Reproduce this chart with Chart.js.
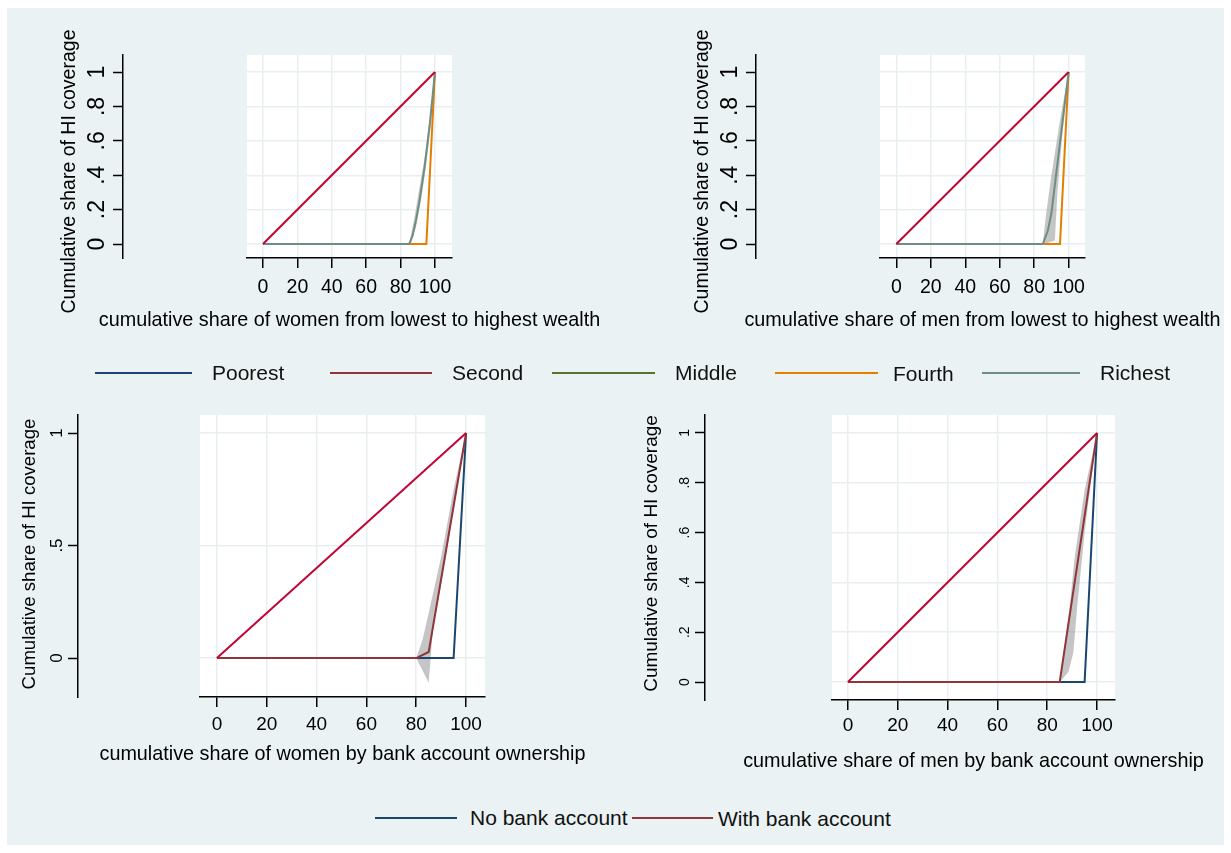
<!DOCTYPE html>
<html>
<head>
<meta charset="utf-8">
<script src="https://cdn.jsdelivr.net/npm/chart.js@4.4.0/dist/chart.umd.min.js"></script>
<style>
body { margin: 0; background: #fff; width: 1231px; height: 853px; overflow: hidden; }
#frame { position: absolute; left: 7px; top: 8px; width: 1217px; height: 837px; background: #eaf2f3; }
canvas { position: absolute; }
.key { position: absolute; height: 0; border-top: 2px solid; }
.lbl { position: absolute; font-family: "Liberation Sans", Arial, sans-serif; font-size: 21px; line-height: 21px; color: #111; white-space: nowrap; }
</style>
</head>
<body>
<div id="frame"></div>

<canvas id="a1" width="120" height="340" style="left:50px;top:0px"></canvas>
<canvas id="p1" width="560" height="340" style="left:60px;top:0px"></canvas>
<canvas id="a2" width="120" height="340" style="left:680px;top:0px"></canvas>
<canvas id="p2" width="531" height="340" style="left:700px;top:0px"></canvas>
<canvas id="a3" width="120" height="440" style="left:5px;top:345px"></canvas>
<canvas id="p3" width="640" height="440" style="left:0px;top:345px"></canvas>
<canvas id="a4" width="120" height="440" style="left:630px;top:345px"></canvas>
<canvas id="p4" width="591" height="440" style="left:640px;top:345px"></canvas>

<!-- wealth legend -->
<div class="key" style="left:95px;top:372px;width:97px;border-color:#1a476f"></div>
<div class="lbl" style="left:212px;top:362px">Poorest</div>
<div class="key" style="left:330px;top:372px;width:102px;border-color:#90353b"></div>
<div class="lbl" style="left:452px;top:362px">Second</div>
<div class="key" style="left:552px;top:372px;width:103px;border-color:#55752f"></div>
<div class="lbl" style="left:675px;top:362px">Middle</div>
<div class="key" style="left:775px;top:372px;width:103px;border-color:#e37e00"></div>
<div class="lbl" style="left:893px;top:363px">Fourth</div>
<div class="key" style="left:982px;top:372px;width:98px;border-color:#6e8e84"></div>
<div class="lbl" style="left:1100px;top:362px">Richest</div>

<!-- bank legend -->
<div class="key" style="left:375px;top:817px;width:82px;border-color:#1a476f"></div>
<div class="lbl" style="left:470px;top:807px">No bank account</div>
<div class="key" style="left:632px;top:817px;width:81px;border-color:#90353b"></div>
<div class="lbl" style="left:718px;top:808px">With bank account</div>

<script>
var FONT = '"Liberation Sans", Arial, sans-serif';
Chart.defaults.font.family = FONT;

// ticks
var xTicks = [0, 20, 40, 60, 80, 100];
var yTicksFine = [0, 0.2, 0.4, 0.6, 0.8, 1];
var yLabelsFine = ['0', '.2', '.4', '.6', '.8', '1'];
var yTicksHalf = [0, 0.5, 1];
var yLabelsHalf = ['0', '.5', '1'];

// line of equality
var equalX = [0, 100];
var equalY = [0, 1];

// women, lowest to highest wealth
var wFourthX = [0, 95, 100];
var wFourthY = [0, 0, 1];
var wRichestX = [0, 85, 87, 89, 91, 94, 97, 100];
var wRichestY = [0, 0, 0.05, 0.14, 0.25, 0.45, 0.7, 1];
var wCiHiX = [85, 88, 90, 94, 97, 100];
var wCiHiY = [0, 0.15, 0.27, 0.5, 0.73, 1];
var wCiLoX = [85, 86, 89, 92, 95, 98, 100];
var wCiLoY = [0, 0, 0.1, 0.26, 0.47, 0.72, 1];

// men, lowest to highest wealth
var mFourthX = [0, 95, 100];
var mFourthY = [0, 0, 1];
var mRichestX = [0, 85, 88, 90, 100];
var mRichestY = [0, 0, 0.08, 0.18, 1];
var mCiHiX = [85, 87, 90, 95, 100];
var mCiHiY = [0, 0.18, 0.4, 0.72, 1];
var mCiLoX = [85, 86, 92, 93.5, 96, 100];
var mCiLoY = [0, 0, 0.02, 0.3, 0.6, 1];

// women, bank account
var wNoBankX = [0, 95, 100];
var wNoBankY = [0, 0, 1];
var wBankX = [0, 80, 85, 100];
var wBankY = [0, 0, 0.027, 1];
var wBankCiHiX = [80, 82.5, 85, 90, 95, 100];
var wBankCiHiY = [0, 0.08, 0.2, 0.45, 0.75, 1];
var wBankCiLoX = [80, 85, 86.7, 90, 95, 100];
var wBankCiLoY = [0, -0.11, 0.13, 0.33, 0.66, 1];

// men, bank account
var mNoBankX = [0, 95, 100];
var mNoBankY = [0, 0, 1];
var mBankX = [0, 85, 100];
var mBankY = [0, 0, 1];
var mBankCiHiX = [85, 87, 89, 91, 95, 100];
var mBankCiHiY = [0, 0.15, 0.3, 0.5, 0.77, 1];
var mBankCiLoX = [85, 88.5, 90.5, 92, 95, 100];
var mBankCiLoY = [0, 0.04, 0.12, 0.3, 0.6, 1];

var NAVY = '#1a476f', MAROON = '#90353b', ORANGE = '#e37e00', TEAL = '#6e8e84', CRAN = '#c10534';
var GRID = '#e9eff1';
var Y_TITLE = 'Cumulative share of HI coverage';

function pts(xs, ys) {
    return xs.map(function (x, i) { return { x: x, y: ys[i] }; });
}

function line(label, xs, ys, color) {
    return { label: label, data: pts(xs, ys), borderColor: color, borderWidth: 2, pointRadius: 0, fill: false, tension: 0 };
}

function band(xs, ys, fill) {
    return { label: 'ci', data: pts(xs, ys), borderWidth: 0, borderColor: 'rgba(0,0,0,0)',
        backgroundColor: 'rgba(140,140,140,0.5)', pointRadius: 0, fill: fill, tension: 0 };
}

var plotBg = {
    id: 'plotBg',
    beforeDraw: function (chart) {
        var a = chart.chartArea, ctx = chart.ctx;
        ctx.save();
        ctx.fillStyle = '#fff';
        ctx.fillRect(a.left, a.top, a.right - a.left, a.bottom - a.top);
        ctx.restore();
    }
};

// axis titles drawn by hand: chart.js squeezes a title into the plot width
var axisTitle = {
    id: 'axisTitle',
    afterDraw: function (chart, args, o) {
        if (!o.text) return;
        var a = chart.chartArea, ctx = chart.ctx;
        ctx.save();
        ctx.font = o.size + 'px ' + FONT;
        ctx.fillStyle = '#000';
        ctx.textAlign = 'center';
        ctx.textBaseline = 'middle';
        if (o.vertical) {
            ctx.translate(a.left - o.dx, (a.top + a.bottom) / 2 + o.dy);
            ctx.rotate(-Math.PI / 2);
            ctx.fillText(o.text, 0, 0);
        } else {
            ctx.fillText(o.text, (a.left + a.right) / 2, a.bottom + o.dy);
        }
        ctx.restore();
    }
};

function setTicks(list) {
    return function (s) { s.ticks = list.map(function (v) { return { value: v }; }); };
}

// the y axis stands apart from the plot, so it gets its own canvas
function axisChart(id, o) {
    return new Chart(document.getElementById(id), {
        type: 'line',
        data: { datasets: [] },
        plugins: [axisTitle],
        options: {
            responsive: false, animation: false,
            layout: { padding: { top: o.top, bottom: o.bottom, left: 0, right: 0 } },
            plugins: {
                legend: { display: false }, tooltip: { enabled: false },
                axisTitle: { text: Y_TITLE, vertical: true, size: o.titleSize, dx: o.titleDx, dy: o.titleDy }
            },
            scales: {
                x: { type: 'linear', display: false, min: 0, max: 1 },
                y: {
                    type: 'linear', min: o.yMin, max: o.yMax,
                    afterBuildTicks: setTicks(o.yTicks),
                    afterFit: function (s) { s.width = o.width; },
                    border: { display: true, color: '#000', width: 1.5 },
                    grid: { drawOnChartArea: false, drawTicks: true, tickLength: 10, color: '#000', tickColor: '#000', tickWidth: 1.5 },
                    ticks: {
                        color: '#000', font: { size: o.tickSize }, padding: o.tickPad,
                        crossAlign: 'center', minRotation: 90, maxRotation: 90,
                        callback: function (v, i) { return o.yLabels[i]; }
                    }
                }
            }
        }
    });
}

function plotChart(id, o) {
    return new Chart(document.getElementById(id), {
        type: 'line',
        data: { datasets: o.datasets },
        plugins: [plotBg, axisTitle],
        options: {
            responsive: false, animation: false,
            layout: { padding: { top: o.top, bottom: o.bottom, left: o.left, right: o.right } },
            plugins: {
                legend: { display: false }, tooltip: { enabled: false },
                axisTitle: { text: o.xTitle, vertical: false, size: 19.8, dy: o.xTitleDy }
            },
            scales: {
                x: {
                    type: 'linear', min: o.xMin, max: o.xMax,
                    afterBuildTicks: setTicks(xTicks),
                    afterFit: function (s) { s.height = o.xHeight; },
                    border: { color: '#000', width: 1.5 },
                    grid: { color: GRID, lineWidth: 1.5, tickLength: 10, tickColor: '#000', tickWidth: 1.5 },
                    ticks: { color: '#000', font: { size: o.xTickSize }, padding: o.xTickPad, maxRotation: 0, autoSkip: false }
                },
                y: {
                    type: 'linear', min: o.yMin, max: o.yMax,
                    afterBuildTicks: setTicks(o.yTicks),
                    afterFit: function (s) { s.width = 0; },
                    border: { display: false },
                    grid: { color: GRID, lineWidth: 1.5, drawTicks: false },
                    ticks: { display: false }
                }
            }
        }
    });
}

// top left: women by wealth
axisChart('a1', { top: 55, bottom: 82, width: 73, yMin: -0.081, yMax: 1.099, yTicks: yTicksFine, yLabels: yLabelsFine,
    tickSize: 23, tickPad: 6, titleSize: 19.5, titleDx: 53, titleDy: 15 });
plotChart('p1', { top: 55, bottom: 9, left: 187, right: 168, xHeight: 73, xMin: -9.3, xMax: 109.9,
    yMin: -0.081, yMax: 1.099, yTicks: yTicksFine, xTickSize: 19.5, xTickPad: 8,
    xTitle: 'cumulative share of women from lowest to highest wealth', xTitleDy: 63,
    datasets: [
        line('Equality', equalX, equalY, CRAN),
        line('Richest', wRichestX, wRichestY, TEAL),
        line('Fourth', wFourthX, wFourthY, ORANGE),
        band(wCiHiX, wCiHiY, '+1'),
        band(wCiLoX, wCiLoY, false)
    ] });

// top right: men by wealth
axisChart('a2', { top: 55, bottom: 82, width: 76, yMin: -0.081, yMax: 1.099, yTicks: yTicksFine, yLabels: yLabelsFine,
    tickSize: 23, tickPad: 6, titleSize: 19.5, titleDx: 53, titleDy: 15 });
plotChart('p2', { top: 55, bottom: 9, left: 180, right: 146, xHeight: 73, xMin: -9.5, xMax: 109.5,
    yMin: -0.081, yMax: 1.099, yTicks: yTicksFine, xTickSize: 19.5, xTickPad: 8,
    xTitle: 'cumulative share of men from lowest to highest wealth', xTitleDy: 63,
    datasets: [
        line('Equality', equalX, equalY, CRAN),
        line('Richest', mRichestX, mRichestY, TEAL),
        line('Fourth', mFourthX, mFourthY, ORANGE),
        band(mCiHiX, mCiHiY, '+1'),
        band(mCiLoX, mCiLoY, false)
    ] });

// bottom left: women by bank account
axisChart('a3', { top: 70, bottom: 88, width: 73, yMin: -0.173, yMax: 1.08, yTicks: yTicksHalf, yLabels: yLabelsHalf,
    tickSize: 17, tickPad: 4, titleSize: 18.6, titleDx: 48, titleDy: -2 });
plotChart('p3', { top: 70, bottom: 18, left: 200, right: 155, xHeight: 70, xMin: -6.8, xMax: 107.6,
    yMin: -0.173, yMax: 1.08, yTicks: yTicksHalf, xTickSize: 19, xTickPad: 6,
    xTitle: 'cumulative share of women by bank account ownership', xTitleDy: 58,
    datasets: [
        line('Equality', equalX, equalY, CRAN),
        line('With bank account', wBankX, wBankY, MAROON),
        line('No bank account', wNoBankX, wNoBankY, NAVY),
        band(wBankCiHiX, wBankCiHiY, '+1'),
        band(wBankCiLoX, wBankCiLoY, false)
    ] });

// bottom right: men by bank account
axisChart('a4', { top: 70, bottom: 85, width: 75, yMin: -0.072, yMax: 1.072, yTicks: yTicksFine, yLabels: yLabelsFine,
    tickSize: 14, tickPad: 4, titleSize: 19, titleDx: 53, titleDy: -4 });
plotChart('p4', { top: 70, bottom: 11, left: 192, right: 116, xHeight: 74, xMin: -6.4, xMax: 107.2,
    yMin: -0.072, yMax: 1.072, yTicks: yTicksFine, xTickSize: 19, xTickPad: 4,
    xTitle: 'cumulative share of men by bank account ownership', xTitleDy: 62,
    datasets: [
        line('Equality', equalX, equalY, CRAN),
        line('With bank account', mBankX, mBankY, MAROON),
        line('No bank account', mNoBankX, mNoBankY, NAVY),
        band(mBankCiHiX, mBankCiHiY, '+1'),
        band(mBankCiLoX, mBankCiLoY, false)
    ] });
</script>
</body>
</html>
